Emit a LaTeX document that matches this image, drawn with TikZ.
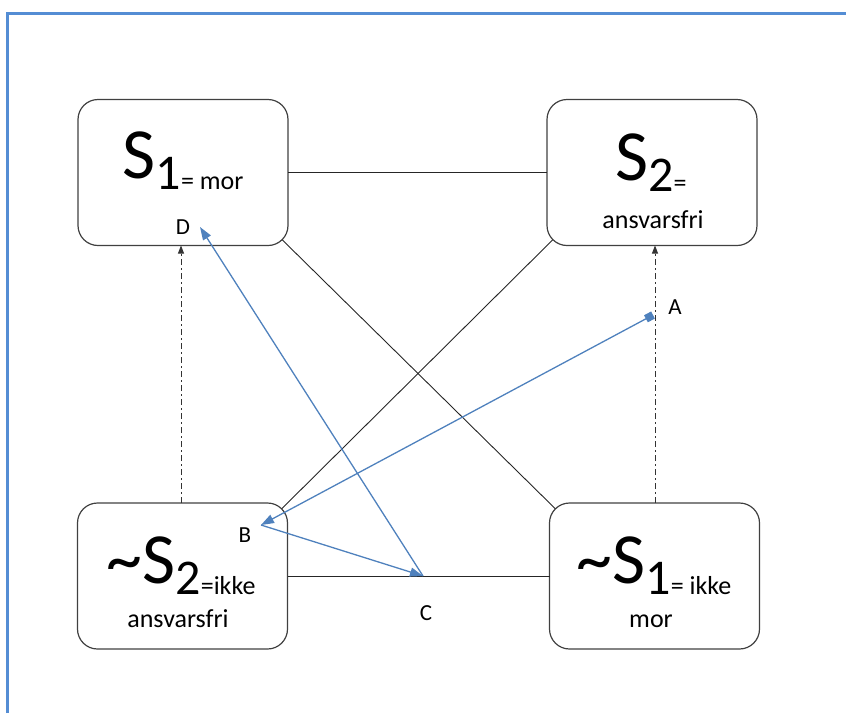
\documentclass[tikz,border=0pt]{standalone}
\usepackage{fontspec}
\setmainfont{Carlito}
\usetikzlibrary{arrows.meta}

\definecolor{frameblue}{RGB}{84,141,212}
\definecolor{arrowblue}{RGB}{79,129,189}
\definecolor{boxgray}{RGB}{64,64,64}

% big state symbol: prefix, S, lowered subscript
\newcommand{\statesym}[3]{%
  {\fontsize{72}{72}\selectfont #1S}%
  \raisebox{-11pt}{{\fontsize{50}{50}\selectfont #2}{\fontsize{26}{26}\selectfont #3}}}
\newcommand{\smalltxt}{\fontsize{26}{26}\selectfont}
\newcommand{\lbltxt}{\fontsize{23}{23}\selectfont}

\tikzset{
  statebox/.style={draw=boxgray, line width=1.2pt, rounded corners=20pt,
    minimum width=210pt, minimum height=146pt, inner sep=0pt, outer sep=0pt},
  symtxt/.style={anchor=base, inner sep=0pt, text=black},
  plainline/.style={draw=black!85, line width=0.9pt},
  implies/.style={draw=black!80, line width=0.9pt,
    dash pattern=on 6pt off 3pt on 2pt off 3pt,
    -{Triangle[length=8pt,width=6pt]}},
  moveline/.style={draw=arrowblue, line width=1.3pt,
    -{Triangle[length=13pt,width=9pt]}},
}

\begin{document}
\begin{tikzpicture}[x=1pt, y=-1pt]
  \useasboundingbox (0,0) rectangle (846,713);

  % frame
  \draw[frameblue, line width=3pt] (7,713) -- (7,13) -- (846,13);

  % the four boxes
  \node[statebox] (s1)  at (183,172.5) {};
  \node[statebox] (s2)  at (652,172.5) {};
  \node[statebox] (ns2) at (182.5,576) {};
  \node[statebox] (ns1) at (654.5,576) {};

  % texts in the boxes
  \node[symtxt] (s1txt)  at (183,178) {\statesym{}{1}{= mor}};
  \node[symtxt] (s2txt)  at (651,180) {\statesym{}{2}{=}};
  \node[symtxt] (s2sub)  at (653,228) {\smalltxt ansvarsfri};
  \node[symtxt] (ns2txt) at (181,583) {\statesym{\textasciitilde}{2}{=ikke}};
  \node[symtxt] (ns2sub) at (178,627) {\smalltxt ansvarsfri};
  \node[symtxt] (ns1txt) at (654,583) {\statesym{\textasciitilde}{1}{= ikke}};
  \node[symtxt] (ns1sub) at (651,627) {\smalltxt mor};

  % sides and diagonals of the square
  \draw[plainline] (s1.east) -- (s2.west);
  \draw[plainline] (ns2.east) -- (ns1.west);
  \draw[plainline, shorten <=-8pt, shorten >=-8pt] (s1.south east) -- (ns1.north west);
  \draw[plainline, shorten <=-8pt, shorten >=-8pt] (s2.south west) -- (ns2.north east);

  % dash-dot implications
  \draw[implies] (ns2.north -| 181,0) -- (s1.south -| 181,0);
  \draw[implies] (ns1.north -| 655,0) -- (s2.south -| 655,0);

  % points of the blue path
  \coordinate (pA) at (653,315);
  \coordinate (pB) at (261,525);
  \coordinate (pC) at (423,576);
  \coordinate (pD) at (200,227);

  \draw[moveline, {Square[length=8pt,width=8pt]}-{Triangle[length=13pt,width=9pt]}] (pA) -- (pB);
  \draw[moveline] (pB) -- (pC);
  \draw[moveline] (pC) -- (pD);

  % labels
  \node[symtxt] (lA) at (675,314) {\lbltxt A};
  \node[symtxt] (lB) at (245,542) {\lbltxt B};
  \node[symtxt] (lC) at (426,620) {\lbltxt C};
  \node[symtxt] (lD) at (183,234) {\lbltxt D};
\end{tikzpicture}
\end{document}
